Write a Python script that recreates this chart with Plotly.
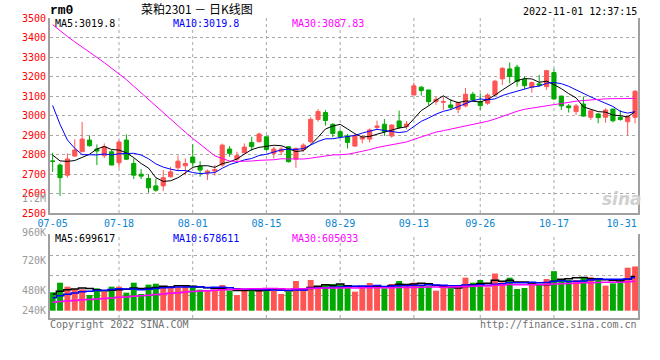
import numpy as np
import plotly.graph_objects as go

# ---------------- data ----------------
dates = [
    "07-05", "07-06", "07-07", "07-08", "07-11", "07-12", "07-13", "07-14", "07-15",
    "07-18", "07-19", "07-20", "07-21", "07-22", "07-25", "07-26", "07-27", "07-28", "07-29",
    "08-01", "08-02", "08-03", "08-04", "08-05", "08-08", "08-09", "08-10", "08-11", "08-12",
    "08-15", "08-16", "08-17", "08-18", "08-19", "08-22", "08-23", "08-24", "08-25", "08-26",
    "08-29", "08-30", "08-31", "09-01", "09-02", "09-05", "09-06", "09-07", "09-08", "09-09",
    "09-13", "09-14", "09-15", "09-16", "09-19", "09-20", "09-21", "09-22", "09-23",
    "09-26", "09-27", "09-28", "09-29", "09-30", "10-10", "10-11", "10-12", "10-13", "10-14",
    "10-17", "10-18", "10-19", "10-20", "10-21", "10-24", "10-25", "10-26", "10-27", "10-28",
    "10-31", "11-01",
]

open_ = [2767, 2746, 2694, 2792, 2814, 2874, 2828, 2794, 2814, 2758,
         2874, 2754, 2699, 2677, 2639, 2639, 2686, 2732, 2742, 2787,
         2740, 2706, 2715, 2746, 2828, 2776, 2809, 2862, 2866, 2891,
         2806, 2814, 2840, 2776, 2826, 2866, 2980, 3015, 2955, 2917,
         2895, 2843, 2879, 2879, 2939, 2955, 2895, 2972, 2943, 3105,
         3145, 3131, 3071, 3068, 3054, 3032, 3049, 3109, 3071, 3063,
         3105, 3188, 3239, 3248, 3186, 3145, 3162, 3148, 3220, 3100,
         3049, 3020, 3059, 2991, 3008, 2991, 3033, 2991, 2968, 2991]
high = [2809, 2754, 2806, 2878, 2967, 2898, 2852, 2857, 2823, 2874,
        2903, 2780, 2725, 2699, 2677, 2720, 2737, 2794, 2780, 2852,
        2766, 2723, 2746, 2856, 2843, 2814, 2857, 2891, 2912, 2891,
        2840, 2840, 2843, 2836, 2857, 2991, 3033, 3028, 2960, 2929,
        2905, 2905, 2900, 2934, 2974, 2982, 2955, 3025, 2972, 3169,
        3152, 3131, 3097, 3097, 3083, 3071, 3141, 3121, 3114, 3114,
        3183, 3248, 3272, 3260, 3200, 3174, 3208, 3234, 3239, 3100,
        3059, 3059, 3097, 3028, 3011, 3037, 3033, 3028, 2997, 3131]
low = [2711, 2588, 2681, 2788, 2814, 2840, 2746, 2782, 2745, 2732,
       2771, 2674, 2674, 2604, 2609, 2612, 2681, 2715, 2694, 2737,
       2686, 2669, 2691, 2737, 2789, 2766, 2806, 2819, 2862, 2819,
       2780, 2797, 2759, 2732, 2814, 2857, 2968, 2948, 2888, 2883,
       2831, 2840, 2857, 2862, 2926, 2895, 2886, 2932, 2929, 3105,
       3102, 3051, 3054, 3028, 3028, 3011, 3042, 3071, 3028, 3054,
       3102, 3157, 3165, 3148, 3136, 3117, 3148, 3131, 3080, 3028,
       3015, 3003, 2994, 2977, 2960, 2963, 2965, 2973, 2900, 2960]
close = [2765, 2681, 2777, 2823, 2879, 2845, 2818, 2840, 2746, 2864,
         2776, 2694, 2689, 2629, 2617, 2681, 2711, 2766, 2754, 2758,
         2720, 2715, 2723, 2848, 2806, 2794, 2838, 2840, 2905, 2826,
         2828, 2828, 2763, 2831, 2848, 2980, 3020, 2974, 2908, 2891,
         2862, 2898, 2888, 2926, 2946, 2917, 2951, 2939, 2956, 3152,
         3128, 3071, 3083, 3071, 3040, 3066, 3109, 3080, 3051, 3105,
         3176, 3242, 3200, 3174, 3153, 3169, 3155, 3230, 3085, 3049,
         3040, 3049, 2997, 3024, 2989, 3028, 2973, 2980, 2994, 3124]
# closes of the 29 sessions before 07-05 (estimated from the moving-average lines)
prior_close = [3620, 3650, 3660, 3640, 3630, 3655, 3650, 3605,
               3680, 3710, 3720, 3700, 3690, 3720, 3700, 3680,
               3720, 3710, 3700, 3620, 3650, 3580, 3250, 3200, 2850,
               2830, 2790, 2800, 2800]

volume = [378000, 575000, 493000, 439000, 439000, 323000, 459000, 391000, 493000, 493000,
          370000, 575000, 343000, 535000, 555000, 493000, 507000, 480000, 514000, 507000,
          432000, 411000, 405000, 527000, 411000, 323000, 405000, 466000, 445000, 466000,
          405000, 343000, 391000, 610000, 405000, 631000, 480000, 527000, 549000, 541000,
          472000, 391000, 472000, 569000, 527000, 459000, 549000, 610000, 549000, 575000,
          527000, 514000, 411000, 480000, 459000, 459000, 678000, 575000, 631000, 480000,
          763000, 582000, 678000, 445000, 466000, 562000, 541000, 651000, 812000, 650880,
          631000, 631000, 688000, 687000, 651025, 514000, 562000, 631000, 883000, 908085]
prior_volume = [98000, 105000, 112000, 120000, 95000, 130000, 118000, 110000, 125000, 140000,
                108000, 132000, 115000, 128000, 145000, 120000, 138000, 150000, 142000, 160000,
                170000, 185000, 210000, 175000, 215000,
                290000, 345000, 360000, 342000]

tick_labels = ["07-05", "07-18", "08-01", "08-15", "08-29", "09-13", "09-26", "10-17", "10-31"]
price_ticks = [2500, 2600, 2700, 2800, 2900, 3000, 3100, 3200, 3300, 3400, 3500]
vol_labels = ["1.2M", "960K", "720K", "480K", "240K"]

title_text = "菜粕2301 － 日K线图"
code_text = "rm0"
time_text = "2022-11-01 12:37:15"
price_legend = ["MA5:3019.8", "MA10:3019.8", "MA30:3087.83"]
vol_legend = ["MA5:699617", "MA10:678611", "MA30:605033"]
footer_left = "Copyright 2022 SINA.COM"
footer_right = "http://finance.sina.com.cn"

# ---------------- styles ----------------
RED = "#ff5454"
GREEN = "#00a800"
MA_COLORS = ["#000000", "#0000ff", "#ff00ff"]
GRID = "#a8a8a8"
AXIS = "#a0a0a0"
MONO = "DejaVu Sans Mono"

W, H = 660, 360
L, R, T, B = 50, 11, 18, 42
PW, PH = W - L - R, H - T - B


def px2x(px):
    return (px - L) / PW


def py2y(py):
    return (H - B - py) / PH


def moving_average(values, n, offset):
    s = np.asarray(values, dtype=float)
    return [s[k - n + 1:k + 1].mean() for k in range(offset, len(s))]


idx = list(range(len(dates)))
closes_all = prior_close + close
vols_all = prior_volume + volume
off = len(prior_close)
ma_price = [moving_average(closes_all, n, off) for n in (5, 10, 30)]
ma_vol = [moving_average(vols_all, n, off) for n in (5, 10, 30)]
tickvals = [dates.index(d) for d in tick_labels]
# the last date label sits left-shifted inside the frame, as in the original
ticktext = tick_labels[:-1] + [tick_labels[-1] + "\u00a0\u00a0"]
bar_colors = [RED if c >= o else GREEN for o, c in zip(open_, close)]

fig = go.Figure()
fig.add_trace(go.Candlestick(
    x=idx, open=open_, high=high, low=low, close=close,
    increasing=dict(line=dict(color=RED, width=1), fillcolor=RED),
    decreasing=dict(line=dict(color=GREEN, width=1), fillcolor=GREEN),
    whiskerwidth=0, xaxis="x", yaxis="y", hoverinfo="skip"))
for m, col in zip(ma_price, MA_COLORS):
    fig.add_trace(go.Scatter(x=idx, y=m, mode="lines", line=dict(color=col, width=1),
                             xaxis="x", yaxis="y", hoverinfo="skip"))

fig.add_trace(go.Bar(x=idx, y=volume, marker=dict(color=bar_colors, line=dict(width=0)),
                     xaxis="x2", yaxis="y2", hoverinfo="skip"))
for m, col in zip(ma_vol, MA_COLORS):
    fig.add_trace(go.Scatter(x=idx, y=m, mode="lines", line=dict(color=col, width=1.5, shape="hvh"),
                             xaxis="x2", yaxis="y2", hoverinfo="skip"))

xr = [-0.36, len(dates) - 1 + 0.4]
price_dom = [py2y(213), 1]
vol_dom = [0, py2y(234.3)]
vb = 310.7  # pixel of zero volume
vscale = 20530.0  # volume per pixel
vrange = [-(H - B - vb) * vscale, (vb - (H - B - vol_dom[1] * PH)) * vscale]
vol_grid = [(vb - p) * vscale for p in (295.0, 275.3, 255.7)] + [vrange[1]]

fig.update_layout(
    width=W, height=H, margin=dict(l=L, r=R, t=T, b=B),
    paper_bgcolor="white", plot_bgcolor="white", showlegend=False,
    boxgap=0.2, bargap=0.2,
    font=dict(family=MONO, size=10, color="#000"),
    xaxis=dict(domain=[0, 1], anchor="y", range=xr, tickmode="array", tickvals=tickvals,
               ticktext=ticktext, tickfont=dict(color="#0a84d0", size=10, family=MONO),
               showgrid=False, showline=True, linecolor=AXIS, linewidth=2, ticks="",
               zeroline=False, rangeslider=dict(visible=False)),
    yaxis=dict(domain=price_dom, anchor="x", range=[2500, 3500], tickmode="array",
               tickvals=price_ticks, ticktext=[str(v) for v in price_ticks],
               tickfont=dict(color="#ff0000", size=10, family=MONO),
               showgrid=True, gridcolor=GRID, griddash="dot", gridwidth=1,
               showline=True, mirror=True, linecolor=AXIS, linewidth=2, ticks="", zeroline=False),
    xaxis2=dict(domain=[0, 1], anchor="y2", range=xr, showticklabels=False, showgrid=False,
                showline=True, linecolor=AXIS, linewidth=2, ticks="", zeroline=False),
    yaxis2=dict(domain=vol_dom, anchor="x2", range=vrange, tickmode="array", tickvals=vol_grid,
                showticklabels=False, showgrid=True, gridcolor=GRID, griddash="dot", gridwidth=1,
                showline=True, mirror=True, linecolor=AXIS, linewidth=2, ticks="", zeroline=False),
)

# vertical dotted grid lines at the inner date ticks
shapes = []
for v in tickvals[1:-1]:
    shapes.append(dict(type="line", xref="x", yref="y domain", x0=v, x1=v, y0=0, y1=1,
                       line=dict(color=GRID, width=1, dash="dot"), layer="below"))
    shapes.append(dict(type="line", xref="x2", yref="y2 domain", x0=v, x1=v, y0=0, y1=1,
                       line=dict(color=GRID, width=1, dash="dot"), layer="below"))
fig.update_layout(shapes=shapes)

ann = []


def text(t, px, py, anchor="left", color="#000", size=10, family=MONO, **kw):
    ann.append(dict(text=t, x=px2x(px), y=py2y(py), xref="paper", yref="paper",
                    xanchor=anchor, yanchor="middle", showarrow=False,
                    font=dict(color=color, size=size, family=family, **kw)))


text(code_text, 48, 11, size=13, family="Liberation Mono", weight="bold")
text(title_text, 200, 9, anchor="center", size=12, family="Noto Sans CJK SC")
text(time_text, 650, 12, anchor="right")
for t, xpos, col in zip(price_legend, (53, 173, 294), MA_COLORS):
    text(t, xpos, 23.5, color=col)
for t, xpos, col in zip(vol_legend, (53, 173, 294), MA_COLORS):
    text(t, xpos, 238.5, color=col)
for t, ypos in zip(vol_labels, (198, 232, 260.7, 290, 310)):
    text(t, 48, ypos, anchor="right", color="#9a9a9a", size=10)
text(footer_left, 48, 324, color="#707070")
text(footer_right, 650, 324, anchor="right", color="#707070")
text("sina", 633, 199, anchor="center", color="#d0d0d0", size=17,
     family="DejaVu Sans", style="italic", weight="bold")
fig.update_layout(annotations=ann)

fig.write_html("out.html", config={"displayModeBar": False},
               post_script="document.body.style.margin='0px';")
